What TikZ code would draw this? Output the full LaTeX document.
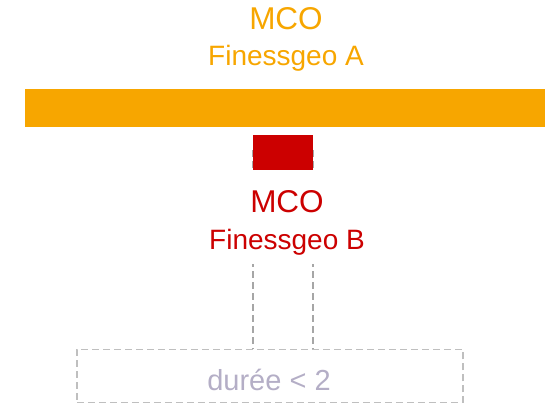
\documentclass[tikz,border=0pt]{standalone}
\usepackage{fontspec}
\setmainfont{Liberation Sans}
\definecolor{mcoorange}{HTML}{F7A600}
\definecolor{mcored}{HTML}{CC0000}
\definecolor{dashgrey}{HTML}{A6A6A6}
\definecolor{boxgrey}{HTML}{BFBFBF}
\definecolor{lilac}{HTML}{B4AEC6}
\tikzset{
  bigtitle/.style={anchor=base, inner sep=0pt, font=\fontsize{31.5}{31.5}\selectfont},
  subtitle/.style={anchor=base, inner sep=0pt, font=\fontsize{28}{28}\selectfont},
  guide/.style={draw=dashgrey, line width=1.5pt, dash pattern=on 7pt off 4pt},
}
\begin{document}
\begin{tikzpicture}[x=1pt,y=1pt]
\useasboundingbox (0,0) rectangle (545,405);

% level A: bar and labels
\fill[mcoorange] (25,278) rectangle (545,316);
\node[bigtitle, text=mcoorange] (mcoA) at (286,375) {MCO};
\node[subtitle, text=mcoorange] (finA) at (286,339) {Finessgeo A};

% duration box
\node[draw=boxgrey, line width=1.5pt, dash pattern=on 7pt off 4pt,
      minimum width=386pt, minimum height=53pt, inner sep=0pt,
      anchor=south west] (dur) at (76,2) {};
\node[anchor=base, inner sep=0pt, text=lilac, font=\fontsize{29}{29}\selectfont]
      (durtxt) at (269,15) {durée < 2};

% guides from the level B block down to the box
\coordinate (gl) at (253,255);
\coordinate (gr) at (313,255);
\draw[guide] (gl) -- (gl |- dur.north);
\draw[guide] (gr) -- (gr |- dur.north);

% level B block and labels
\node[fill=mcored, minimum width=60pt, minimum height=35pt, inner sep=0pt,
      anchor=north west] (redB) at (253,270) {};
\fill[white] (205,141) rectangle (370,233);
\node[bigtitle, text=mcored] (mcoB) at (287,193) {MCO};
\node[subtitle, text=mcored] (finB) at (287,156) {Finessgeo B};
\end{tikzpicture}
\end{document}
